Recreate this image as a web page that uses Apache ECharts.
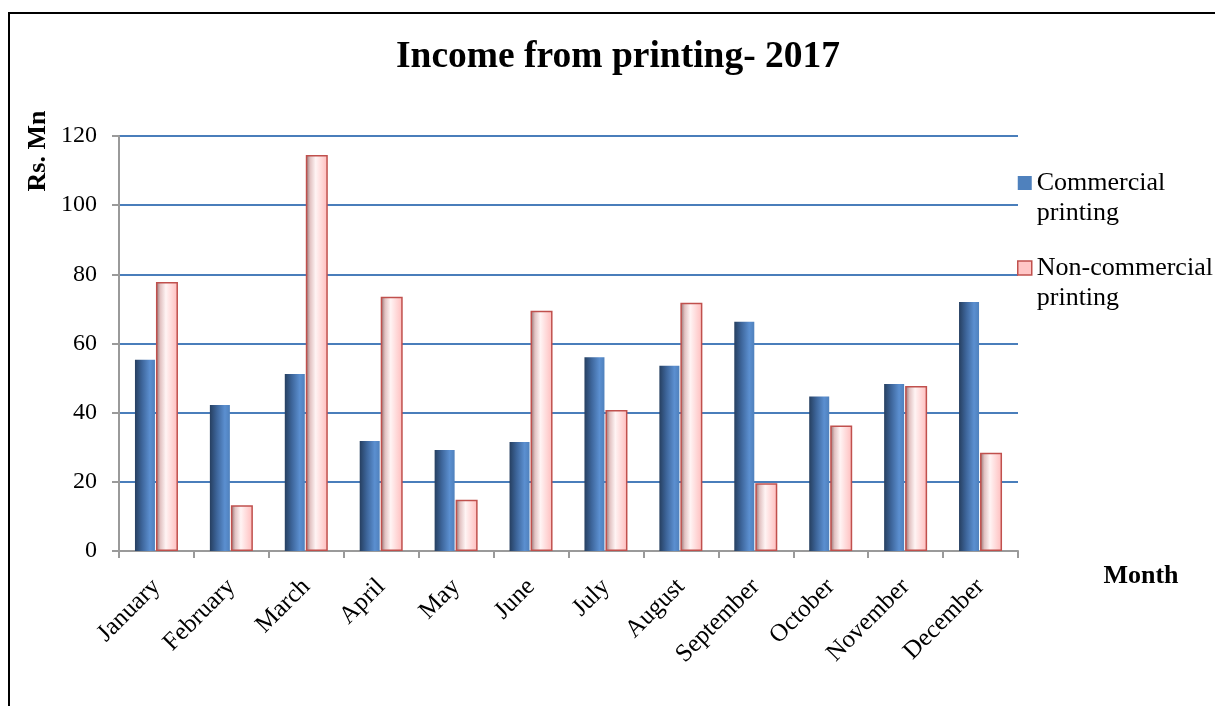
<!DOCTYPE html>
<html>
<head>
<meta charset="utf-8">
<script src="https://cdn.jsdelivr.net/npm/echarts@6/dist/echarts.min.js"></script>
<style>html,body{margin:0;padding:0;background:#fff}#c{width:1215px;height:706px}</style>
</head>
<body>
<div id="c"></div>
<script>
var months = ['January','February','March','April','May','June','July','August','September','October','November','December'];
var commercial = [55.3, 42.2, 51.2, 31.8, 29.2, 31.5, 56.0, 53.6, 66.3, 44.7, 48.3, 72.0];
var nonCommercial = [77.8, 13.2, 114.5, 73.5, 14.8, 69.5, 40.8, 71.8, 19.6, 36.3, 47.7, 28.4];
var seriesNames = ['Commercial printing', 'Non-commercial printing'];
var legendLabels = ['Commercial\nprinting', 'Non-commercial\nprinting'];

var serif = '"Liberation Serif", "Times New Roman", serif';
var chart = echarts.init(document.getElementById('c'));
chart.setOption({
  backgroundColor: '#fff',
  animation: false,
  title: {
    text: 'Income from printing- 2017',
    left: 391, top: 33,
    textStyle: {fontFamily: serif, fontSize: 37.5, fontWeight: 'bold', color: '#000'}
  },
  legend: {
    orient: 'vertical', left: 1017, top: 138, padding: 0,
    itemWidth: 14, itemHeight: 14, itemGap: -5,
    icon: 'rect',
    data: [
      {name: seriesNames[0], itemStyle: {color: '#4f81bd', borderWidth: 0}},
      {name: seriesNames[1], itemStyle: {color: '#ffc6c6', borderColor: '#c0504d', borderWidth: 1.5}}
    ],
    formatter: function (n) { return ' \n' + legendLabels[seriesNames.indexOf(n)]; },
    textStyle: {fontFamily: serif, fontSize: 26, lineHeight: 30, color: '#000'}
  },
  grid: {left: 119, right: 197, top: 136, bottom: 155, containLabel: false},
  xAxis: {
    type: 'category', data: months,
    axisLine: {lineStyle: {color: '#9a9a9a', width: 2}},
    axisTick: {show: true, length: 7, lineStyle: {color: '#9a9a9a', width: 2}},
    axisLabel: {rotate: 45, margin: 32, fontFamily: serif, fontSize: 25, color: '#000', interval: 0}
  },
  yAxis: {
    type: 'value', min: 0, max: 120, interval: 20,
    axisLine: {show: true, lineStyle: {color: '#9a9a9a', width: 2}},
    axisTick: {show: true, length: 7, lineStyle: {color: '#9a9a9a', width: 2}},
    axisLabel: {margin: 22, fontFamily: serif, fontSize: 24, color: '#000'},
    splitLine: {lineStyle: {color: '#4a7ebb', width: 2}}
  },
  series: [
    {
      name: seriesNames[0], type: 'bar', data: commercial,
      barWidth: 20, barGap: '5%',
      itemStyle: {
        color: new echarts.graphic.LinearGradient(0, 0, 1, 0, [
          {offset: 0, color: '#263f60'},
          {offset: 0.35, color: '#3d659a'},
          {offset: 0.75, color: '#5b8fd0'},
          {offset: 1, color: '#4f81bd'}
        ])
      }
    },
    {
      name: seriesNames[1], type: 'bar', data: nonCommercial,
      barWidth: 22,
      itemStyle: {
        borderColor: '#c0504d', borderWidth: 1.5,
        color: new echarts.graphic.LinearGradient(0, 0, 1, 0, [
          {offset: 0, color: '#8c6a6a'},
          {offset: 0.2, color: '#e2c2c2'},
          {offset: 0.45, color: '#fff4f4'},
          {offset: 1, color: '#ffbcbc'}
        ])
      }
    }
  ],
  graphic: [
    {type: 'rect', shape: {x: 9, y: 13, width: 1260, height: 760}, style: {fill: 'none', stroke: '#000', lineWidth: 2}, silent: true},
    {type: 'text', x: 38, y: 151, rotation: Math.PI / 2,
      style: {text: 'Rs. Mn', fontFamily: serif, fontSize: 26, fontWeight: 'bold', fill: '#000', align: 'center', verticalAlign: 'middle'}},
    {type: 'text', x: 1141, y: 576,
      style: {text: 'Month', fontFamily: serif, fontSize: 26, fontWeight: 'bold', fill: '#000', align: 'center', verticalAlign: 'middle'}}
  ]
});
</script>
</body>
</html>
